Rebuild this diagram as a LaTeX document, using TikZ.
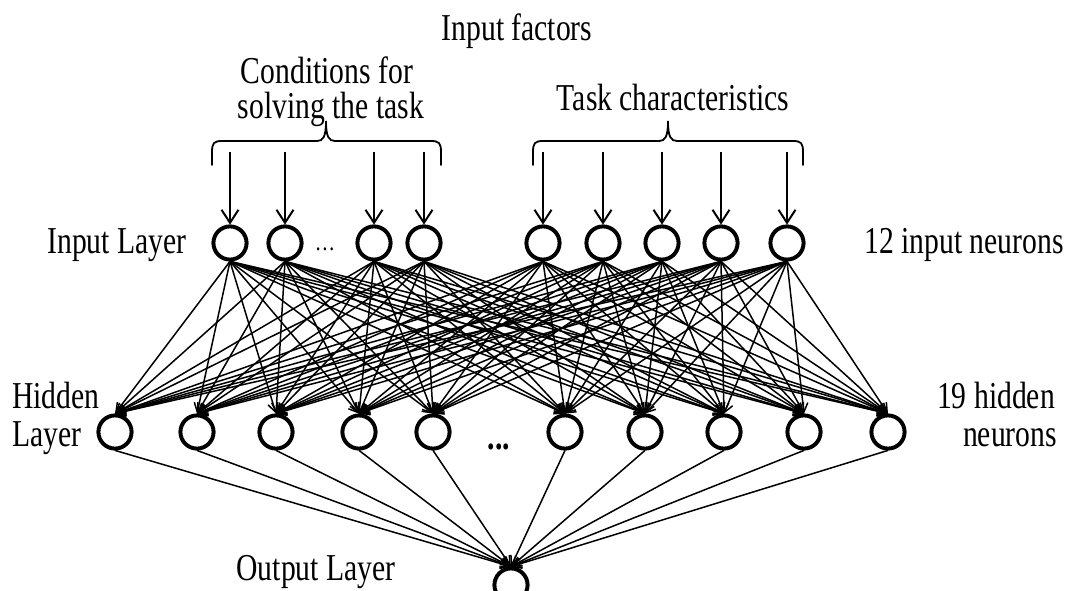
\documentclass[tikz,border=0pt]{standalone}
\usepackage{fontspec}
\setmainfont{Liberation Serif}[FakeStretch=0.78]
\usetikzlibrary{arrows.meta}
\begin{document}
\begin{tikzpicture}[x=1pt,y=-1pt,
  lbl/.style={font=\fontsize{38}{42}\selectfont, inner sep=0pt, anchor=base},
  neuron/.style={circle, draw, line width=3.8pt, minimum size=33pt, inner sep=0pt, fill=white},
  inarrow/.style={line width=2pt, -{Straight Barb[length=13pt,width=17pt,line width=2pt]}},
  conn/.style={line width=1.5pt, -{Straight Barb[length=9pt,width=10pt,line width=1.5pt]}},
  bracepath/.style={line width=1.8pt, line cap=round}]
\useasboundingbox (0,0) rectangle (1067,590);

% input neurons
\foreach \n/\x in {1/230,2/285,3/374,4/424,5/543,6/603,7/662,8/721,9/787}{
  \node[neuron] (i\n) at (\x,243) {};
  \coordinate (a\n) at (\x,152);
}
% hidden neurons
\foreach \n/\x in {1/115,2/197,3/276,4/359,5/433,6/565,7/645,8/724,9/804,10/888}{
  \node[neuron] (h\n) at (\x,432) {};
}
% output neuron
\node[neuron] (o) at (511,585) {};

% connections
\foreach \i in {1,...,9}{
  \foreach \j in {1,...,10}{
    \draw[conn] (i\i.south) -- (h\j.north);
  }
  \draw[inarrow] (a\i) -- (i\i.north);
}
\foreach \j in {1,...,10}{
  \draw[conn] (h\j.south) -- (o.north);
}
% redraw neurons on top
\foreach \n/\x in {1/230,2/285,3/374,4/424,5/543,6/603,7/662,8/721,9/787}{
  \node[neuron] at (\x,243) {};
}
\foreach \n/\x in {1/115,2/197,3/276,4/359,5/433,6/565,7/645,8/724,9/804,10/888}{
  \node[neuron] at (\x,432) {};
}
\node[neuron] at (511,585) {};

% braces
\draw[bracepath] (212,165) -- (212,152) .. controls (212,143) and (214,141) .. (222,141)
  -- (317,141) .. controls (323,141) and (326,137) .. (326,121)
  .. controls (326,137) and (329,141) .. (335,141)
  -- (431,141) .. controls (439,141) and (441,143) .. (441,152) -- (441,165);
\draw[bracepath] (533,165) -- (533,152) .. controls (533,143) and (535,141) .. (543,141)
  -- (659,141) .. controls (665,141) and (668,137) .. (668,121)
  .. controls (668,137) and (671,141) .. (677,141)
  -- (793,141) .. controls (801,141) and (803,143) .. (803,152) -- (803,165);

% texts
\node[lbl] (tf) at (517,40) {Input factors};
\node[lbl] (tc1) at (327,83) {Conditions for};
\node[lbl] (tc2) at (331,118) {solving the task};
\node[lbl] (tt) at (673,110) {Task characteristics};
\node[lbl] (til) at (117,253) {Input Layer};
\node[lbl, anchor=base east] (tin) at (1064,253) {12 input neurons};
\node[lbl, anchor=base west] (th1) at (12,408) {Hidden};
\node[lbl, anchor=base west] (th2) at (12,446) {Layer};
\node[lbl] (thn1) at (996,408) {19 hidden};
\node[lbl] (thn2) at (1010,446) {neurons};
\node[lbl] (tol) at (316,580) {Output Layer};
\node[lbl] (d1) at (325,250) {\fontsize{26}{26}\selectfont …};
\node[lbl] (d2) at (499,449) {\textbf{...}};
\end{tikzpicture}
\end{document}
